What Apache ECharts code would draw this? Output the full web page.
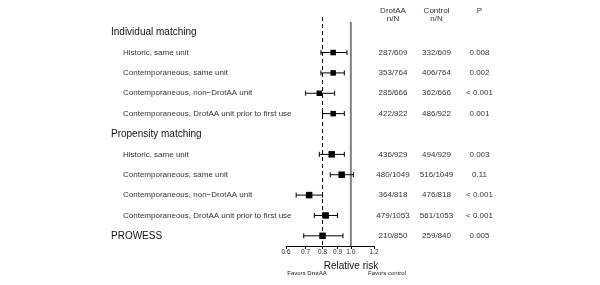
<!DOCTYPE html>
<html>
<head>
<meta charset="utf-8">
<script src="https://cdn.jsdelivr.net/npm/echarts@6/dist/echarts.min.js"></script>
<style>
  html, body { margin: 0; padding: 0; background: #fff; }
  #main { width: 600px; height: 285px; }
</style>
</head>
<body>
<div id="main"></div>
<script>
var myChart = echarts.init(document.getElementById('main'));

// rows, top to bottom
var rowLabels = ['Individual matching', 'Historic, same unit', 'Contemporaneous, same unit',
    'Contemporaneous, non\u2212DrotAA unit', 'Contemporaneous, DrotAA unit prior to first use',
    'Propensity matching', 'Historic, same unit', 'Contemporaneous, same unit',
    'Contemporaneous, non\u2212DrotAA unit', 'Contemporaneous, DrotAA unit prior to first use',
    'PROWESS'];
var headingRows = [0, 5, 10];

// relative risk and 95% CI
var rr = [null, 0.87, 0.87, 0.78, 0.87, null, 0.86, 0.93, 0.72, 0.82, 0.80];
var lo = [null, 0.79, 0.79, 0.70, 0.80, null, 0.78, 0.85, 0.65, 0.75, 0.69];
var hi = [null, 0.97, 0.95, 0.88, 0.95, null, 0.95, 1.02, 0.80, 0.90, 0.94];

var drotaa = ['', '287/609', '353/764', '285/666', '422/922', '', '436/929', '480/1049', '364/818', '479/1053', '210/850'];
var control = ['', '332/609', '406/764', '362/666', '486/922', '', '494/929', '516/1049', '476/818', '561/1053', '259/840'];
var pvalue = ['', '0.008', '0.002', '< 0.001', '0.001', '', '0.003', '0.11', '< 0.001', '< 0.001', '0.005'];

var ticks = [0.6, 0.7, 0.8, 0.9, 1.0, 1.2];
var refNull = 1.0;
var refPooled = 0.8;

var font = 'Liberation Sans, Arial, Helvetica, sans-serif';

var points = [], bars = [];
rr.forEach(function (v, i) {
    if (v == null) return;
    points.push([Math.log(v), i]);
    bars.push([Math.log(lo[i]), Math.log(hi[i]), i]);
});

var logTicks = ticks.map(function (t) { return Math.log(t); });

option = {
    animation: false,
    textStyle: { fontFamily: font },
    grid: { left: 286, right: 226, top: 22, bottom: 39 },
    xAxis: {
        type: 'value',
        min: Math.log(ticks[0]),
        max: Math.log(ticks[ticks.length - 1]),
        splitLine: { show: false },
        axisLine: { show: true, lineStyle: { color: '#000', width: 1 } },
        axisTick: {
            show: true,
            customValues: logTicks,
            length: 3,
            lineStyle: { color: '#000', width: 1 }
        },
        axisLabel: {
            customValues: logTicks,
            formatter: function (v) { return Math.exp(v).toFixed(1); },
            margin: 3,
            fontSize: 6.5,
            color: '#222'
        },
        name: 'Relative risk',
        nameLocation: 'middle',
        nameGap: 14,
        nameTextStyle: { fontSize: 10, color: '#111', padding: [0, 0, 0, 42] }
    },
    yAxis: [{
        type: 'category',
        inverse: true,
        data: rowLabels,
        axisLine: { show: false },
        axisTick: { show: false },
        axisLabel: {
            interval: 0,
            align: 'left',
            margin: 175,
            formatter: function (v, i) {
                return headingRows.indexOf(i) >= 0 ? '{h|' + v + '}' : '{i|' + v + '}';
            },
            rich: {
                h: { fontSize: 10, color: '#111', fontFamily: font },
                i: { fontSize: 8, color: '#333', fontFamily: font, padding: [0, 0, 0, 12] }
            }
        }
    }, {
        type: 'category',
        inverse: true,
        position: 'right',
        data: rowLabels,
        axisLine: { show: false },
        axisTick: { show: false },
        axisLabel: {
            interval: 0,
            align: 'left',
            margin: 2,
            formatter: function (v, i) {
                if (!drotaa[i]) return '';
                return '{a|' + drotaa[i] + '}{b|' + control[i] + '}{c|' + pvalue[i] + '}';
            },
            rich: {
                a: { width: 34, align: 'center', fontSize: 8, color: '#333', fontFamily: font },
                b: { width: 53, align: 'center', fontSize: 8, color: '#333', fontFamily: font },
                c: { width: 33, align: 'center', fontSize: 8, color: '#333', fontFamily: font }
            }
        }
    }],
    graphic: [
        { type: 'text', x: 393, y: 7, style: { text: 'DrotAA\nn/N', align: 'center', fontSize: 8, lineHeight: 8, fill: '#333', fontFamily: font } },
        { type: 'text', x: 436.5, y: 7, style: { text: 'Control\nn/N', align: 'center', fontSize: 8, lineHeight: 8, fill: '#333', fontFamily: font } },
        { type: 'text', x: 479.5, y: 7, style: { text: 'P', align: 'center', fontSize: 8, lineHeight: 8, fill: '#333', fontFamily: font } },
        { type: 'text', x: 307, y: 270, style: { text: 'Favors DrotAA', align: 'center', fontSize: 6, fill: '#222', fontFamily: font } },
        { type: 'text', x: 387, y: 270, style: { text: 'Favors control', align: 'center', fontSize: 6, fill: '#222', fontFamily: font } }
    ],
    series: [{
        type: 'custom',
        name: 'reference',
        data: [[Math.log(refNull), 0, 0], [Math.log(refPooled), 0, 1]],
        clip: false,
        silent: true,
        renderItem: function (params, api) {
            var x = api.coord([api.value(0), 0])[0];
            var cs = params.coordSys;
            var dashed = api.value(2) === 1;
            return {
                type: 'line',
                shape: { x1: x, y1: cs.y - (dashed ? 5 : 0), x2: x, y2: cs.y + cs.height },
                style: dashed
                    ? { stroke: '#000', lineWidth: 1, lineDash: [4, 3] }
                    : { stroke: '#808080', lineWidth: 2 }
            };
        }
    }, {
        type: 'custom',
        name: 'CI',
        data: bars,
        encode: { x: [0, 1], y: 2 },
        renderItem: function (params, api) {
            var a = api.coord([api.value(0), api.value(2)]);
            var b = api.coord([api.value(1), api.value(2)]);
            var s = { stroke: '#000', lineWidth: 1 };
            return {
                type: 'group',
                children: [
                    { type: 'line', shape: { x1: a[0], y1: a[1], x2: b[0], y2: b[1] }, style: s },
                    { type: 'line', shape: { x1: a[0], y1: a[1] - 2.5, x2: a[0], y2: a[1] + 2.5 }, style: s },
                    { type: 'line', shape: { x1: b[0], y1: b[1] - 2.5, x2: b[0], y2: b[1] + 2.5 }, style: s }
                ]
            };
        }
    }, {
        type: 'scatter',
        name: 'RR',
        data: points,
        symbol: 'rect',
        symbolSize: function (v, p) { return p.dataIndex < 4 ? 5.5 : 6.5; },
        itemStyle: { color: '#000', opacity: 1 },
        z: 5
    }]
};

myChart.setOption(option);
</script>
</body>
</html>
